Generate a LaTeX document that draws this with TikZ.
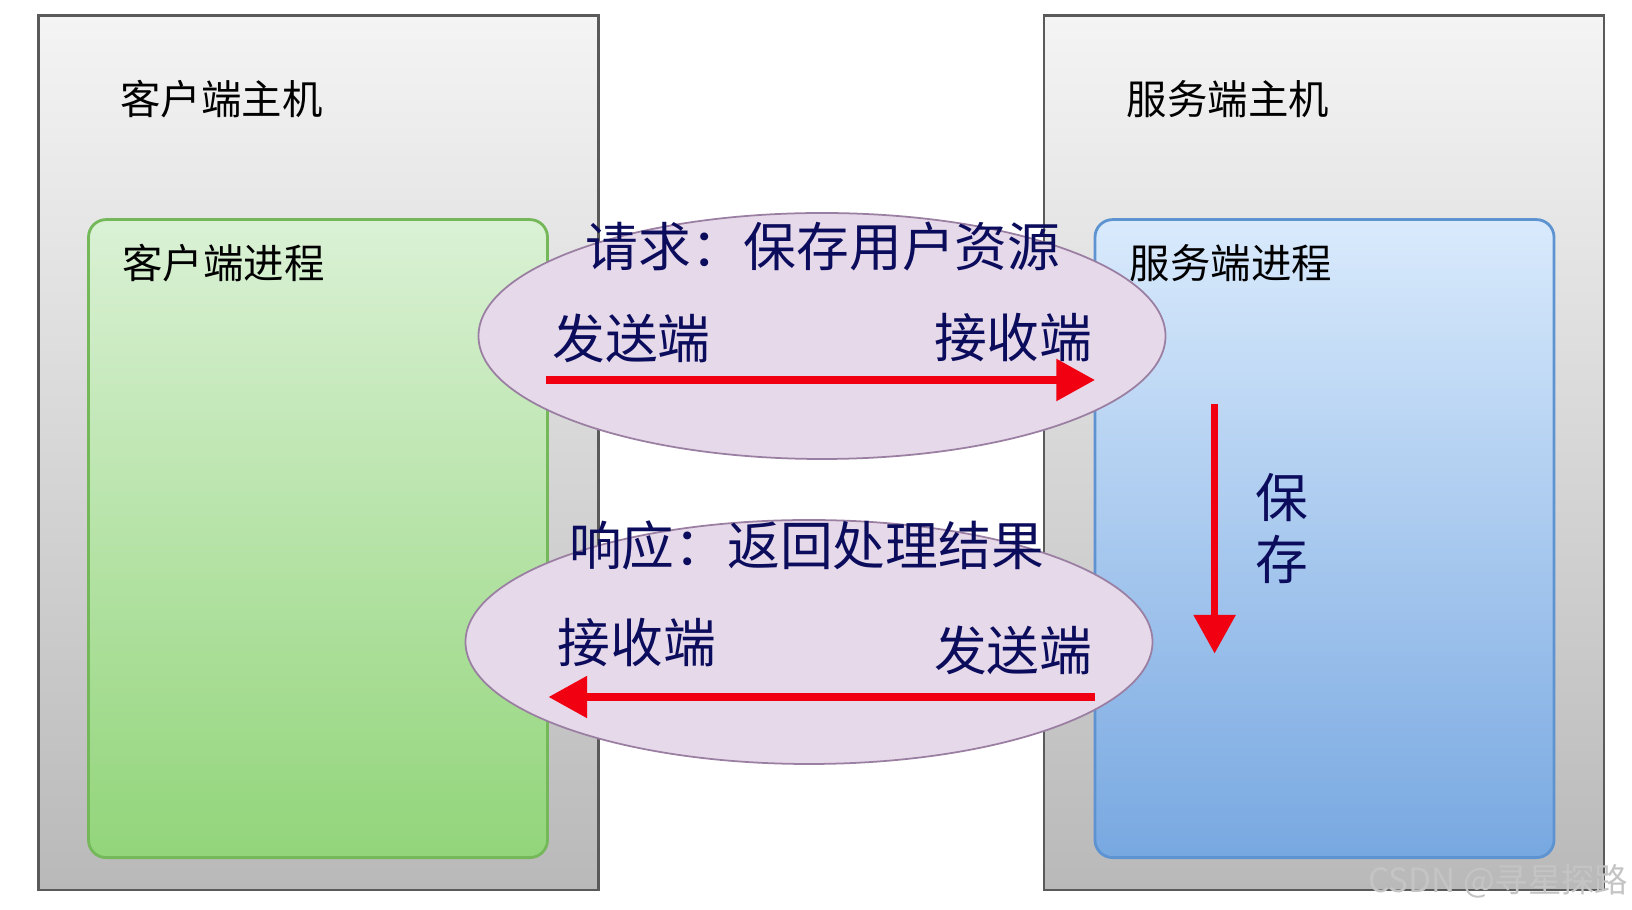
\documentclass[tikz,border=0pt]{standalone}
\usepackage{fontspec}
\setmainfont{Noto Sans CJK SC}
\usetikzlibrary{arrows.meta}

\definecolor{hostline}{HTML}{5A5A5A}
\definecolor{hosttop}{HTML}{F4F4F4}
\definecolor{hostbot}{HTML}{B9B9B9}
\definecolor{greenline}{HTML}{74B85A}
\definecolor{greentop}{HTML}{DAF1D5}
\definecolor{greenbot}{HTML}{92D57A}
\definecolor{blueline}{HTML}{5E93D2}
\definecolor{bluetop}{HTML}{D9EAFC}
\definecolor{bluebot}{HTML}{78A8E1}
\definecolor{msgfill}{HTML}{E6D9EA}
\definecolor{msgline}{HTML}{9A7FA2}
\definecolor{msgtext}{HTML}{0C0C5C}
\definecolor{arrowred}{HTML}{F00010}
\definecolor{markgray}{HTML}{C4C4C4}

\tikzset{
  host/.style={draw=hostline, line width=0.7pt, top color=hosttop, bottom color=hostbot},
  process/.style={line width=0.8pt, rounded corners=5pt},
  message/.style={draw=msgline, fill=msgfill, line width=0.5pt},
  hostlabel/.style={inner sep=0pt, anchor=west, font=\fontsize{11.5pt}{14pt}\selectfont},
  msglabel/.style={inner sep=0pt, text=msgtext, font=\fontsize{15pt}{18pt}\selectfont},
  redarrow/.style={draw=arrowred, line width=2.1pt, -{Triangle[length=11pt, width=11.5pt]}}
}

\begin{document}
\begin{tikzpicture}[x=0.01cm, y=-0.01cm]
  \useasboundingbox (0,0) rectangle (1632,910);

  %hosts
  \draw[host] (38.5,15.6) rectangle (598.5,890);
  \draw[host] (1044,15.6) rectangle (1604,890);

  %processes
  \draw[process, draw=greenline, top color=greentop, bottom color=greenbot] (88.5,219.6) rectangle (547.5,857.6);
  \draw[process, draw=blueline, top color=bluetop, bottom color=bluebot] (1095,219.6) rectangle (1554,857.6);

  %labels
  \node[hostlabel] (clienthost) at (119.7,98.9) {客户端主机};
  \node[hostlabel] (clientproc) at (121.8,263.3) {客户端进程};
  \node[hostlabel] (serverhost) at (1126,98.9) {服务端主机};
  \node[hostlabel] (serverproc) at (1129,263.3) {服务端进程};

  %request
  \draw[message] (822,336) ellipse [x radius=343.5, y radius=123];
  \node[msglabel] (reqtitle) at (823,246.7) {请求：保存用户资源};
  \node[msglabel, anchor=west] (reqsend) at (551.6,338) {发送端};
  \node[msglabel, anchor=east] (reqrecv) at (1093,338) {接收端};
  \coordinate (reqfrom) at (546.4,380);
  \coordinate (reqto) at (1095,380);
  \draw[redarrow] (reqfrom) -- (reqto);

  %response
  \draw[message] (809,642) ellipse [x radius=343.5, y radius=122];
  \node[msglabel] (resptitle) at (806.6,545.4) {响应：返回处理结果};
  \node[msglabel, anchor=west] (resprecv) at (556.8,643) {接收端};
  \node[msglabel, anchor=east] (respsend) at (1093,650.5) {发送端};
  \coordinate (respfrom) at (1095,697);
  \coordinate (respto) at (548.5,697);
  \draw[redarrow] (respfrom) -- (respto);

  %save
  \coordinate (savefrom) at (1214.6,403.8);
  \coordinate (saveto) at (1214.6,653.6);
  \draw[redarrow] (savefrom) -- (saveto);
  \node[msglabel] (savetop) at (1282,497.5) {保};
  \node[msglabel] (savebot) at (1282,559) {存};

  %watermark
  \node[inner sep=0pt, anchor=east, text=markgray, font=\fontsize{9.5pt}{11pt}\selectfont] (mark) at (1629,881.5) {CSDN @寻星探路};
\end{tikzpicture}
\end{document}
